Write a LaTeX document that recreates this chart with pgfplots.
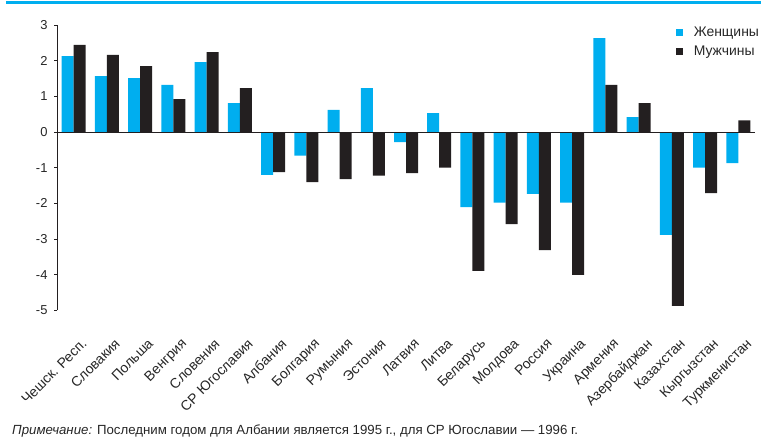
\documentclass[border=0pt]{standalone}
\usepackage{fontspec}
\setmainfont{Liberation Sans}
\usepackage{pgfplots}
\pgfplotsset{compat=1.18}
\usepackage{pgfplotstable}
\definecolor{wcyan}{RGB}{0,174,239}
\definecolor{mblack}{RGB}{35,31,32}
\pgfplotstableread{
x women men
0 2.13 2.44
1 1.57 2.16
2 1.51 1.85
3 1.32 0.92
4 1.96 2.24
5 0.81 1.23
6 -1.20 -1.12
7 -0.66 -1.40
8 0.62 -1.32
9 1.23 -1.22
10 -0.28 -1.15
11 0.53 -1.00
12 -2.10 -3.89
13 -1.98 -2.58
14 -1.73 -3.31
15 -1.98 -4.00
16 2.63 1.32
17 0.42 0.81
18 -2.88 -4.87
19 -1.00 -1.71
20 -0.87 0.33
}\datatable
\begin{document}
\begin{tikzpicture}[x=1bp,y=1bp]
\path[use as bounding box] (0,0) rectangle (761,441);
\draw[wcyan, line width=2.5bp] (6,438.5) -- (761,438.5);
\begin{axis}[
  at={(57bp,130.5bp)}, anchor=south west,
  scale only axis, width=698bp, height=285.5bp,
  ybar=0pt, bar width=12bp,
  xmin=-0.5, xmax=20.5, ymin=-5, ymax=3,
  axis lines=left,
  axis line style={-, line width=0.9bp, mblack},
  x axis line style={draw=none},
  xtick=data,
  xticklabels={Чешск. Респ., Словакия, Польша, Венгрия, Словения, СР Югославия, Албания, Болгария, Румыния, Эстония, Латвия, Литва, Беларусь, Молдова, Россия, Украина, Армения, Азербайджан, Казахстан, Кыргызстан, Туркменистан},
  x tick style={draw=none},
  xticklabel style={rotate=45, anchor=north east, font=\fontsize{14}{15}\selectfont, text=black!85, xshift=-12bp, yshift=-22bp, inner sep=0pt},
  ytick={-5,-4,...,3},
  y tick style={mblack, line width=0.9bp},
  tick align=outside, major tick length=3bp,
  yticklabel style={font=\fontsize{13}{14}\selectfont, text=black!85, xshift=-3bp},
  /pgf/number format/assume math mode=true,
  legend style={at={(rel axis cs:0.887,1.0)}, anchor=north west, draw=none, fill=none, font=\fontsize{14}{15}\selectfont, text=black!85, row sep=4bp, inner sep=0pt, /tikz/every odd column/.append style={column sep=9bp}},
  legend image code/.code={\fill[#1, draw=none] (0bp,-3bp) rectangle (6.5bp,3.5bp);},
  legend cell align=left,
]
\addplot[fill=wcyan, draw=none] table[x=x, y=women] {\datatable};
\addplot[fill=mblack, draw=none] table[x=x, y=men] {\datatable};
\legend{Женщины, Мужчины}
\draw[mblack, line width=0.9bp] (axis cs:-0.5,0) -- (axis cs:20.5,0);
\end{axis}
\node[anchor=base west, inner sep=0pt, font=\fontsize{13.3}{14}\selectfont, text=black!85] at (12,6) {\textit{Примечание:} Последним годом для Албании является 1995 г., для СР Югославии — 1996 г.};
\end{tikzpicture}
\end{document}
